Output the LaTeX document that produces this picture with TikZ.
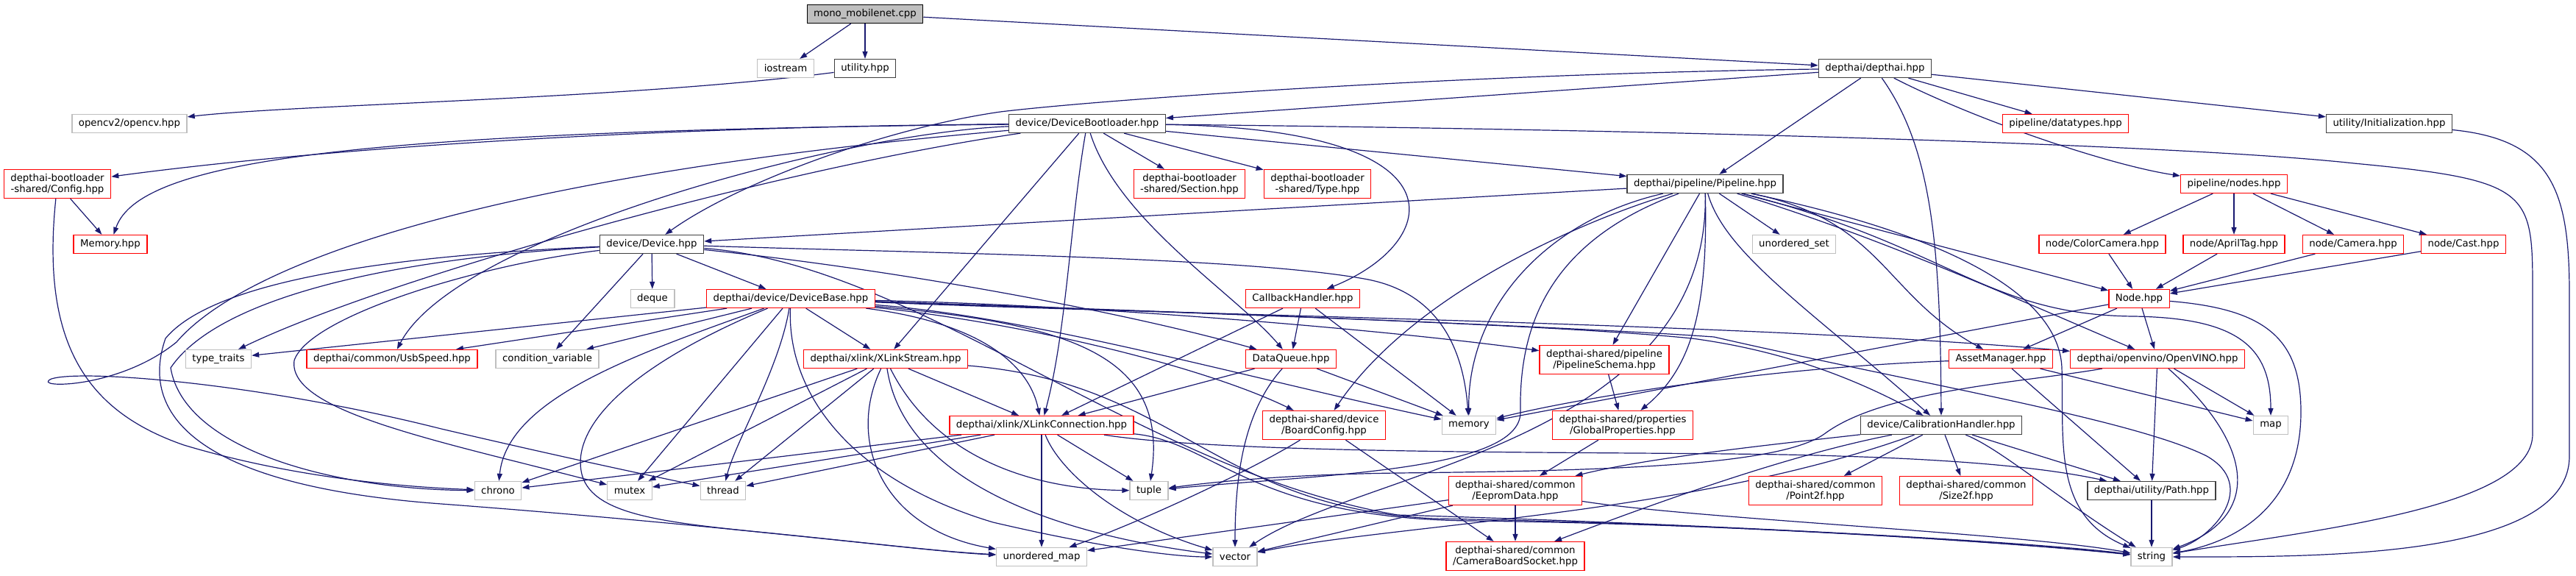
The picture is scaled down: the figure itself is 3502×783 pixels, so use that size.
\documentclass[tikz,border=0pt]{standalone}
\usepackage{fontspec}
\setmainfont{DejaVu Sans}
\usetikzlibrary{arrows.meta}
\definecolor{edgeblue}{HTML}{191970}
\definecolor{sysgray}{HTML}{BFBFBF}
\definecolor{hdrdark}{HTML}{404040}
\pgfdeclarelayer{edges}
\pgfsetlayers{edges,main}
\tikzset{
  file/.style={draw, line width=1.3pt, fill=white, inner xsep=9pt, inner ysep=0pt,
    minimum height=25pt, align=center, font=\fontsize{13.3}{15.3}\selectfont},
  twoline/.style={minimum height=39pt},
  rootfile/.style={file, draw=black, fill=sysgray},
  hdrfile/.style={file, draw=hdrdark},
  redfile/.style={file, draw=red},
  sysfile/.style={file, draw=sysgray},
  dep/.style={draw=edgeblue, line width=1.2pt, -{Triangle[length=10pt,width=7pt]}}
}
\begin{document}
\begin{tikzpicture}[x=1pt,y=-1pt]
\useasboundingbox (0,0) rectangle (3502,783);
% row 1-2
\node[rootfile] (mono) at (1176,19) {mono\_mobilenet.cpp};
\node[sysfile] (iostream) at (1068,93) {iostream};
\node[hdrfile] (utility) at (1176,93) {utility.hpp};
\node[hdrfile] (depthai) at (2549,93) {depthai/depthai.hpp};
% row 3
\node[sysfile] (opencv) at (176,168) {opencv2/opencv.hpp};
\node[hdrfile] (bootloader) at (1478,168) {device/DeviceBootloader.hpp};
\node[redfile] (datatypes) at (2808,168) {pipeline/datatypes.hpp};
\node[hdrfile] (init) at (3248,168) {utility/Initialization.hpp};
% row 4
\node[redfile,twoline] (blconfig) at (78,250) {depthai-bootloader\\-shared/Config.hpp};
\node[redfile,twoline] (blsection) at (1617,250) {depthai-bootloader\\-shared/Section.hpp};
\node[redfile,twoline] (bltype) at (1791,250) {depthai-bootloader\\-shared/Type.hpp};
\node[hdrfile] (pipeline) at (2318,250) {depthai/pipeline/Pipeline.hpp};
\node[redfile] (nodes) at (3037,250) {pipeline/nodes.hpp};
% row 5
\node[redfile] (blmemory) at (150,332) {Memory.hpp};
\node[hdrfile] (device) at (886,332) {device/Device.hpp};
\node[sysfile] (uset) at (2439,332) {unordered\_set};
\node[redfile] (colorcam) at (2858,332) {node/ColorCamera.hpp};
\node[redfile] (apriltag) at (3037,332) {node/AprilTag.hpp};
\node[redfile] (camera) at (3199,332) {node/Camera.hpp};
\node[redfile] (cast) at (3349,332) {node/Cast.hpp};
% row 6
\node[sysfile] (deque) at (887,406) {deque};
\node[redfile] (devbase) at (1075,406) {depthai/device/DeviceBase.hpp};
\node[redfile] (callback) at (1771,406) {CallbackHandler.hpp};
\node[redfile] (node) at (2908,406) {Node.hpp};
% row 7
\node[sysfile] (traits) at (297,488) {type\_traits};
\node[redfile] (usbspeed) at (533,488) {depthai/common/UsbSpeed.hpp};
\node[sysfile] (condvar) at (744,488) {condition\_variable};
\node[redfile] (xstream) at (1204,488) {depthai/xlink/XLinkStream.hpp};
\node[redfile] (dataqueue) at (1755,488) {DataQueue.hpp};
\node[redfile,twoline] (schema) at (2181,489) {depthai-shared/pipeline\\/PipelineSchema.hpp};
\node[redfile] (asset) at (2720,488) {AssetManager.hpp};
\node[redfile] (openvino) at (2933,488) {depthai/openvino/OpenVINO.hpp};
% row 8
\node[redfile] (xconn) at (1416,578) {depthai/xlink/XLinkConnection.hpp};
\node[redfile,twoline] (boardcfg) at (1800,578) {depthai-shared/device\\/BoardConfig.hpp};
\node[sysfile] (memory) at (1997,578) {memory};
\node[redfile,twoline] (globalprops) at (2206,578) {depthai-shared/properties\\/GlobalProperties.hpp};
\node[hdrfile] (calib) at (2639,578) {device/CalibrationHandler.hpp};
\node[sysfile] (map) at (3087,578) {map};
% row 9
\node[sysfile] (chrono) at (677,667) {chrono};
\node[sysfile] (mutex) at (856,667) {mutex};
\node[sysfile] (thread) at (983,667) {thread};
\node[sysfile] (tuple) at (1562,667) {tuple};
\node[redfile,twoline] (eeprom) at (2060,667) {depthai-shared/common\\/EepromData.hpp};
\node[redfile,twoline] (point2f) at (2468,667) {depthai-shared/common\\/Point2f.hpp};
\node[redfile,twoline] (size2f) at (2673,667) {depthai-shared/common\\/Size2f.hpp};
\node[hdrfile] (path) at (2925,667) {depthai/utility/Path.hpp};
% row 10
\node[sysfile] (umap) at (1416,757) {unordered\_map};
\node[sysfile] (vector) at (1679,757) {vector};
\node[redfile,twoline] (cbsocket) at (2060,756) {depthai-shared/common\\/CameraBoardSocket.hpp};
\node[sysfile] (string) at (2925,757) {string};

\begin{pgfonlayer}{edges}
% top file
\draw[dep] (mono) -- (iostream);
\draw[dep] (mono) -- (utility);
\draw[dep] (mono) -- (depthai);
\draw[dep] (utility) .. controls (850,135) and (400,142) .. (opencv);
% depthai.hpp
\draw[dep] (depthai) -- (bootloader);
\draw[dep] (depthai) .. controls (2000,100) and (1500,135) .. (1360,152) .. controls (1200,175) and (1000,250) .. (device);
\draw[dep] (depthai) -- (pipeline);
\draw[dep] (depthai) -- (datatypes);
\draw[dep] (depthai) -- (init);
\draw[dep] (depthai) .. controls (2690,165) and (2870,225) .. (nodes);
\draw[dep] (depthai) .. controls (2625,200) and (2638,330) .. (calib);
\draw[dep] (init) .. controls (3470,190) and (3493,260) .. (3493,400) -- (3493,620) .. controls (3493,760) and (3150,757) .. (string);
% DeviceBootloader.hpp
\draw[dep] (bootloader) .. controls (900,172) and (450,200) .. (blconfig);
\draw[dep] (bootloader) .. controls (500,178) and (190,215) .. (blmemory);
\draw[dep] (bootloader) -- (blsection);
\draw[dep] (bootloader) -- (bltype);
\draw[dep] (bootloader) -- (pipeline);
\draw[dep] (bootloader) .. controls (2000,175) and (1960,330) .. (callback);
\draw[dep] (bootloader) .. controls (2400,178) and (3000,200) .. (3200,222) .. controls (3443,245) and (3443,260) .. (3443,400) -- (3443,590) .. controls (3443,690) and (3150,720) .. (string);
\draw[dep] (bootloader) .. controls (1050,230) and (520,380) .. (traits);
\draw[dep] (bootloader) .. controls (1150,180) and (620,320) .. (usbspeed);
\draw[dep] (bootloader) -- (xstream);
\draw[dep] (bootloader) .. controls (1455,300) and (1450,450) .. (xconn);
\draw[dep] (bootloader) .. controls (1520,300) and (1680,400) .. (dataqueue);
\draw[dep] (bootloader) .. controls (650,240) and (330,360) .. (240,465) .. controls (160,530) and (40,528) .. (70,515) .. controls (110,502) and (350,520) .. (600,583) .. controls (780,625) and (900,650) .. (thread);
\draw[dep] (blconfig) -- (blmemory);
\draw[dep] (blconfig) .. controls (55,470) and (120,560) .. (250,605) .. controls (400,650) and (550,662) .. (chrono);
% Device.hpp
\draw[dep] (device) -- (deque);
\draw[dep] (device) -- (devbase);
\draw[dep] (device) -- (condvar);
\draw[dep] (device) .. controls (600,345) and (300,370) .. (225,460) .. controls (190,560) and (260,660) .. (600,685) .. controls (1000,715) and (1260,750) .. (umap);
\draw[dep] (device) .. controls (550,350) and (300,400) .. (232,500) .. controls (250,610) and (450,665) .. (chrono);
\draw[dep] (device) .. controls (650,360) and (420,430) .. (400,490) .. controls (390,560) and (600,600) .. (mutex);
\draw[dep] (device) .. controls (1250,370) and (1550,430) .. (dataqueue);
\draw[dep] (device) .. controls (1300,345) and (1700,350) .. (1860,380) .. controls (1960,400) and (1990,480) .. (memory);
\draw[dep] (device) .. controls (1250,360) and (1550,640) .. (1900,700) .. controls (2300,712) and (2750,735) .. (string);
% DeviceBase.hpp
\draw[dep] (devbase) -- (traits);
\draw[dep] (devbase) -- (usbspeed);
\draw[dep] (devbase) -- (condvar);
\draw[dep] (devbase) .. controls (870,480) and (690,540) .. (chrono);
\draw[dep] (devbase) .. controls (850,500) and (780,580) .. (790,640) .. controls (800,700) and (900,710) .. (1050,725) .. controls (1200,740) and (1280,750) .. (umap);
\draw[dep] (devbase) -- (mutex);
\draw[dep] (devbase) .. controls (1060,500) and (1000,600) .. (thread);
\draw[dep] (devbase) .. controls (1070,530) and (1150,650) .. (1350,710) .. controls (1500,745) and (1600,757) .. (vector);
\draw[dep] (devbase) -- (xstream);
\draw[dep] (devbase) .. controls (1340,440) and (1400,500) .. (xconn);
\draw[dep] (devbase) .. controls (1450,440) and (1590,480) .. (tuple);
\draw[dep] (devbase) .. controls (1400,430) and (1700,515) .. (memory);
\draw[dep] (devbase) .. controls (1400,440) and (1640,500) .. (boardcfg);
\draw[dep] (devbase) .. controls (1500,415) and (1900,450) .. (schema);
\draw[dep] (devbase) .. controls (1600,428) and (2400,440) .. (openvino);
\draw[dep] (devbase) .. controls (1600,425) and (2100,440) .. (2300,460) .. controls (2450,480) and (2550,530) .. (calib);
\draw[dep] (devbase) .. controls (1650,425) and (2150,445) .. (2330,458) .. controls (2600,520) and (2900,570) .. (3000,620) .. controls (3070,660) and (3010,730) .. (string);
% Pipeline.hpp
\draw[dep] (pipeline) -- (device);
\draw[dep] (pipeline) -- (uset);
\draw[dep] (pipeline) -- (node);
\draw[dep] (pipeline) .. controls (2100,300) and (1995,420) .. (memory);
\draw[dep] (pipeline) .. controls (2150,300) and (1920,400) .. (boardcfg);
\draw[dep] (pipeline) .. controls (2100,330) and (2065,450) .. (2067,560) .. controls (2068,640) and (1800,645) .. (tuple);
\draw[dep] (pipeline) -- (schema);
\draw[dep] (pipeline) .. controls (2322,420) and (2300,500) .. (globalprops);
\draw[dep] (pipeline) .. controls (2345,345) and (2460,420) .. (calib);
\draw[dep] (pipeline) .. controls (2560,300) and (2560,400) .. (asset);
\draw[dep] (pipeline) .. controls (2550,320) and (2750,410) .. (openvino);
\draw[dep] (pipeline) .. controls (2650,335) and (2700,428) .. (2900,430) .. controls (3040,432) and (3087,470) .. (map);
\draw[dep] (pipeline) .. controls (2700,330) and (2800,420) .. (2803,500) .. controls (2806,600) and (2790,700) .. (string);
\draw[dep] (pipeline) .. controls (2325,600) and (1850,640) .. (vector);
% nodes.hpp
\draw[dep] (nodes) -- (colorcam);
\draw[dep] (nodes) -- (apriltag);
\draw[dep] (nodes) -- (camera);
\draw[dep] (nodes) -- (cast);
\draw[dep] (colorcam) -- (node);
\draw[dep] (apriltag) -- (node);
\draw[dep] (camera) -- (node);
\draw[dep] (cast) -- (node);
% Node.hpp
\draw[dep] (node) -- (asset);
\draw[dep] (node) -- (openvino);
\draw[dep] (node) -- (memory);
\draw[dep] (node) .. controls (3080,420) and (3128,460) .. (3128,560) .. controls (3128,680) and (3050,735) .. (string);
% CallbackHandler.hpp, DataQueue.hpp
\draw[dep] (callback) -- (dataqueue);
\draw[dep] (callback) -- (xconn);
\draw[dep] (callback) -- (memory);
\draw[dep] (dataqueue) -- (xconn);
\draw[dep] (dataqueue) -- (memory);
\draw[dep] (dataqueue) .. controls (1690,560) and (1679,650) .. (vector);
% XLinkStream.hpp
\draw[dep] (xstream) -- (chrono);
\draw[dep] (xstream) -- (mutex);
\draw[dep] (xstream) -- (thread);
\draw[dep] (xstream) -- (xconn);
\draw[dep] (xstream) .. controls (1270,620) and (1400,665) .. (tuple);
\draw[dep] (xstream) .. controls (1150,600) and (1200,720) .. (umap);
\draw[dep] (xstream) .. controls (1230,660) and (1450,728) .. (vector);
\draw[dep] (xstream) .. controls (1600,520) and (1650,690) .. (1950,705) .. controls (2350,712) and (2750,738) .. (string);
% XLinkConnection.hpp
\draw[dep] (xconn) -- (chrono);
\draw[dep] (xconn) -- (mutex);
\draw[dep] (xconn) -- (thread);
\draw[dep] (xconn) -- (tuple);
\draw[dep] (xconn) -- (umap);
\draw[dep] (xconn) .. controls (1440,640) and (1520,710) .. (vector);
\draw[dep] (xconn) .. controls (1650,600) and (1700,705) .. (2000,708) .. controls (2400,713) and (2760,740) .. (string);
\draw[dep] (xconn) .. controls (1700,622) and (2300,612) .. (2500,620) .. controls (2700,626) and (2800,640) .. (path);
% AssetManager.hpp, OpenVINO.hpp
\draw[dep] (asset) .. controls (2400,500) and (2150,540) .. (memory);
\draw[dep] (asset) -- (map);
\draw[dep] (asset) -- (path);
\draw[dep] (openvino) -- (path);
\draw[dep] (openvino) -- (map);
\draw[dep] (openvino) .. controls (3060,600) and (3080,700) .. (string);
\draw[dep] (openvino) .. controls (2750,520) and (2560,530) .. (2480,590) .. controls (2420,632) and (2200,640) .. (1900,643) .. controls (1750,645) and (1650,655) .. (tuple);
% CalibrationHandler.hpp
\draw[dep] (calib) -- (point2f);
\draw[dep] (calib) -- (size2f);
\draw[dep] (calib) -- (path);
\draw[dep] (calib) .. controls (2720,610) and (2800,680) .. (string);
\draw[dep] (calib) .. controls (2450,600) and (2250,620) .. (eeprom);
\draw[dep] (calib) .. controls (2450,615) and (2300,665) .. (cbsocket);
\draw[dep] (calib) .. controls (2300,700) and (1900,712) .. (vector);
% shared headers
\draw[dep] (schema) -- (globalprops);
\draw[dep] (globalprops) -- (eeprom);
\draw[dep] (boardcfg) .. controls (1700,640) and (1550,710) .. (umap);
\draw[dep] (boardcfg) -- (cbsocket);
\draw[dep] (eeprom) -- (cbsocket);
\draw[dep] (eeprom) -- (umap);
\draw[dep] (eeprom) -- (vector);
\draw[dep] (eeprom) .. controls (2300,705) and (2750,725) .. (string);
\draw[dep] (path) -- (string);
\end{pgfonlayer}
\end{tikzpicture}
\end{document}
